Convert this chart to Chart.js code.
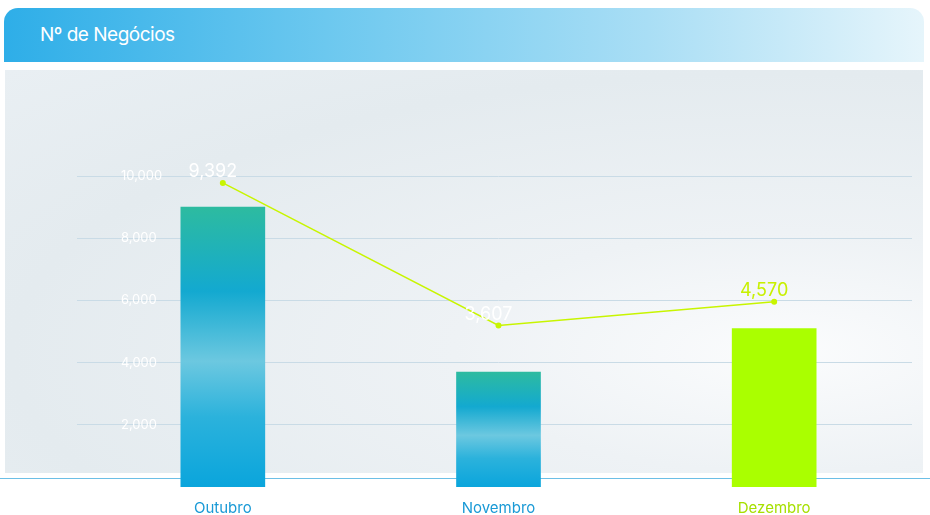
<!DOCTYPE html>
<html><head><meta charset="utf-8">
<script src="https://cdn.jsdelivr.net/npm/chart.js@4"></script>
<style>
body{margin:0;width:930px;height:515px;background:#fff;font-family:Inter,"Noto Sans",sans-serif;position:relative;overflow:hidden}
#hdr{position:absolute;left:4px;top:8px;width:920px;height:54px;border-radius:14px 14px 0 0;background:linear-gradient(90deg,#2eaee8 0%,#6cc8ef 35%,#a9def5 70%,#e6f5fb 100%);}
#hdr span{position:absolute;left:36px;top:15px;color:#fff;font-size:19px;letter-spacing:-0.5px}
#bg{position:absolute;left:5px;top:70px;width:918px;height:403px;background:radial-gradient(ellipse at 85% 70%,#fbfcfd 0%,#eef2f5 30%,#e4ebef 70%,#e9eff3 100%)}
#base{position:absolute;left:0;top:478px;width:930px;height:1px;background:#6cbfe6}
#wrap{position:absolute;left:0;top:70px;width:930px;height:461px}
</style></head><body>
<div id="hdr"><span>Nº de Negócios</span></div>
<div id="bg"></div><div id="base"></div>
<div id="wrap"><canvas id="c"></canvas></div>
<script>
const categories=["Outubro","Novembro","Dezembro"];
const barValues=[9000,3700,5100];
const lineValues=[9392,3607,4570];
const yTicks=[2000,4000,6000,8000,10000];
const labelColors=["#1a9ad6","#1a9ad6","#a6e000"];
const lineLabelColors=["#ffffff","#ffffff","#c8f000"];

function barFill(ctx){
  const ch=ctx.chart, a=ch.chartArea; if(!a) return '#1aa';
  const i=ctx.dataIndex;
  if(i===2) return '#aaff00';
  const top=ch.scales.y.getPixelForValue(barValues[i]);
  const g=ch.ctx.createLinearGradient(0,top,0,a.bottom);
  g.addColorStop(0,'#2dbba0');g.addColorStop(0.3,'#13a9d0');g.addColorStop(0.55,'#6cc8e0');g.addColorStop(0.75,'#2bb2dc');g.addColorStop(1,'#0aa5dc');
  return g;
}
const labelPlugin={id:'lbl',afterDatasetsDraw(ch){
  const m=ch.getDatasetMeta(1),c=ch.ctx;c.save();c.font='18px Inter, sans-serif';c.textAlign='center';c.textBaseline='bottom';
  m.data.forEach((p,i)=>{c.fillStyle=lineLabelColors[i];c.fillText(lineValues[i].toLocaleString('en-US'),p.x-10,p.y-2);});
  c.restore();}};
new Chart(document.getElementById('c'),{
  data:{labels:categories,datasets:[
    {type:'bar',data:barValues,backgroundColor:barFill,barThickness:84,order:2},
    {type:'line',data:lineValues,yAxisID:'y1',borderColor:'#c8f500',borderWidth:1.5,pointRadius:3,pointBackgroundColor:'#c8f500',pointBorderWidth:0,order:1}
  ]},
  options:{responsive:true,maintainAspectRatio:false,animation:false,
    layout:{padding:{top:6,bottom:4,left:5,right:18}},
    plugins:{legend:{display:false},tooltip:{enabled:false}},
    scales:{
      x:{grid:{display:false},border:{display:false},ticks:{padding:4,font:{size:15,family:'Inter'},color:c=>labelColors[c.index]}},
      y:{min:0,max:12000,afterBuildTicks:s=>{s.ticks=[0,...yTicks,12000].map(v=>({value:v}));},
         border:{display:false},grid:{color:c=>(c.tick.value===0||c.tick.value===12000)?'rgba(0,0,0,0)':'#c9dbe6'},
         ticks:{mirror:true,padding:36,color:'#fff',font:{size:13,family:'Inter'},callback:v=>(v===0||v===12000)?'':v.toLocaleString('en-US')}},
      y1:{display:false,min:-2955,max:12197}
    }},
  plugins:[labelPlugin]
});
</script></body></html>
